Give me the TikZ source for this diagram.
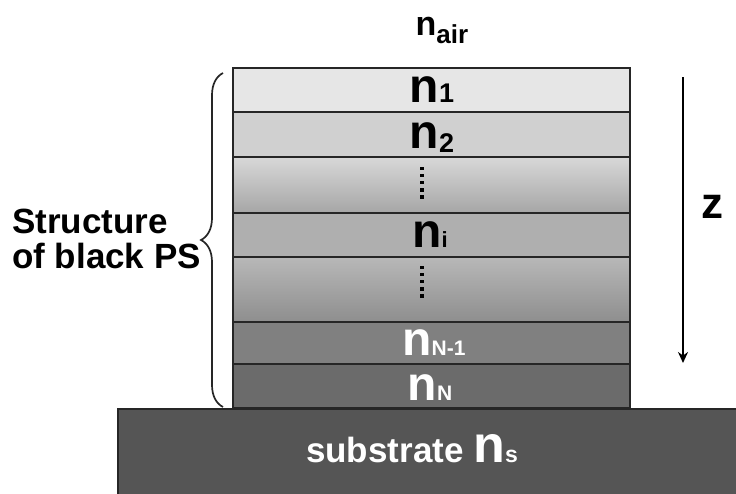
\documentclass[tikz,border=0pt]{standalone}
\usepackage{fontspec}
\setmainfont{Liberation Sans}
\usetikzlibrary{decorations.pathreplacing,arrows.meta}
\definecolor{cA}{HTML}{E6E6E6}
\definecolor{cB}{HTML}{D0D0D0}
\definecolor{cC1}{HTML}{D8D8D8}
\definecolor{cC2}{HTML}{A6A6A6}
\definecolor{cD}{HTML}{AFAFAF}
\definecolor{cE1}{HTML}{B8B8B8}
\definecolor{cE2}{HTML}{8E8E8E}
\definecolor{cF}{HTML}{808080}
\definecolor{cG}{HTML}{6B6B6B}
\definecolor{cS}{HTML}{555555}
\newcommand{\fsz}[1]{\fontsize{#1}{#1}\selectfont}
\begin{document}
\begin{tikzpicture}[x=1pt,y=-1pt,
  layer/.style={draw=black!85, line width=2.6pt, minimum width=397pt, inner sep=0pt, outer sep=0pt},
  lab/.style={anchor=base, inner sep=0pt, font=\bfseries},
  dotm/.style={fill=black},
]
\useasboundingbox (0,0) rectangle (736,493);
\clip (0,0) rectangle (736,493);
\fill[white] (0,0) rectangle (736,493);
% substrate
\node[draw=black!85, line width=1.8pt, fill=cS, minimum width=640pt, minimum height=100pt, anchor=north west, inner sep=0pt] (sub) at (117,408) {};
% layers
\node[layer, fill=cA, minimum height=44pt] (L1) at (431.5,90) {};
\node[layer, fill=cB, minimum height=45pt] (L2) at (431.5,134.5) {};
\node[layer, top color=cC1, bottom color=cC2, minimum height=56pt] (D1) at (431.5,185) {};
\node[layer, fill=cD, minimum height=44pt] (Li) at (431.5,235) {};
\node[layer, top color=cE1, bottom color=cE2, minimum height=65pt] (D2) at (431.5,289.5) {};
\node[layer, fill=cF, minimum height=42pt] (LN1) at (431.5,343) {};
\node[layer, fill=cG, minimum height=44pt] (LN) at (431.5,386) {};
% labels
\node[lab] (tair) at (442,35) {\fsz{34}n\raisebox{-8pt}{\fsz{26}air}};
\node[lab] (t1) at (432,102) {\fsz{48}n\fsz{27}1};
\node[lab] (t2) at (432,148) {\fsz{48}n\raisebox{-4pt}{\fsz{27}2}};
\node[lab] (ti) at (430,247) {\fsz{48}n\fsz{22}i};
\node[lab, text=white] (tN1) at (434,355) {\fsz{48}n\fsz{21}N-1};
\node[lab, text=white] (tN) at (430,400) {\fsz{48}n\fsz{21}N};
\node[lab, text=white] (ts) at (412,462) {\fsz{35}substrate \fsz{52}n\fsz{23}s};
% dots
\foreach \k in {0,...,4} {\fill[dotm] (420.4,166.5+7.2*\k) rectangle ++(3.4,3.4);}
\foreach \k in {0,...,4} {\fill[dotm] (420.4,265.5+7.2*\k) rectangle ++(3.4,3.4);}
% brace
\coordinate (bb) at (223,407);
\coordinate (bt) at (223,73);
\draw[line width=1.7pt, black!85, decorate, decoration={brace, amplitude=22pt, raise=0pt}] (bb) -- (bt);
\node[anchor=base west, inner sep=0pt, font=\bfseries\fsz{35}] (s1) at (12,233) {Structure};
\node[anchor=base west, inner sep=0pt, font=\bfseries\fsz{35}] (s2) at (12,268) {of black PS};
% z arrow
\coordinate (za) at (683,77);
\coordinate (zb) at (683,363);
\draw[line width=2.4pt, -{Stealth[length=11pt,width=10pt]}] (za) -- (zb);
\node[lab, font=\bfseries\fsz{44}] (z) at (712,218) {z};
\end{tikzpicture}
\end{document}
